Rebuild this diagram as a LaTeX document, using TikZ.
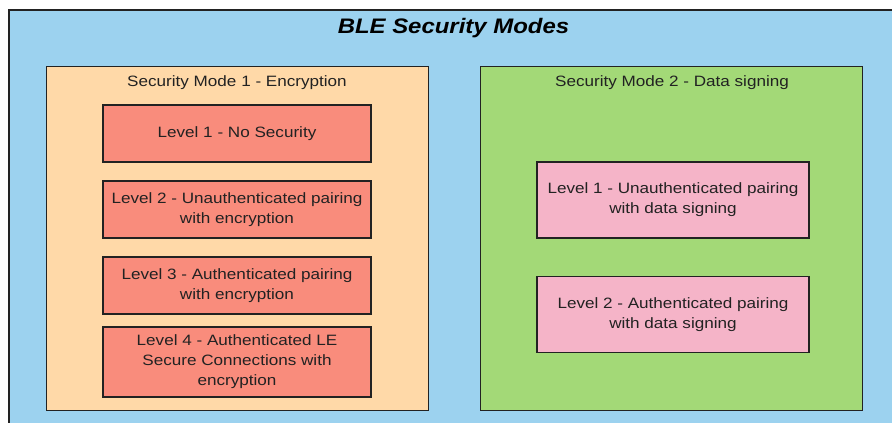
\documentclass[tikz,border=0pt]{standalone}
\usepackage{fontspec}
\setmainfont{Liberation Sans}[FakeStretch=1.14]
\definecolor{bleblue}{HTML}{9CD2EF}
\definecolor{peach}{HTML}{FFD9A8}
\definecolor{salmon}{HTML}{F98C7C}
\definecolor{leaf}{HTML}{A3D977}
\definecolor{rose}{HTML}{F5B4C8}
\definecolor{edge}{HTML}{222222}

\begin{document}
\begin{tikzpicture}[x=1pt,y=-1pt,
		box/.style={draw=edge,line width=1.4pt,inner sep=0pt,align=center,text=edge,font=\fontsize{15}{20}\selectfont},
		level/.style={box,minimum width=268pt,minimum height=57pt},
		sign/.style={box,minimum width=272pt,minimum height=76pt},
		mode/.style={box,minimum width=382pt,minimum height=344pt,anchor=north west},
		caption/.style={anchor=base,inner sep=0pt,text=edge,font=\fontsize{15}{20}\selectfont}]
					\clip (0,0) rectangle (892,423);
					\node[box,fill=bleblue,line width=2.4pt,minimum width=900pt,minimum height=430pt,anchor=north west] (ble) at (8,9) {};
					\node[anchor=base,inner sep=0pt,font=\fontsize{21}{24}\selectfont\bfseries\itshape] (title) at (453.5,33) {BLE Security Modes};

					\node[mode,fill=peach] (enc) at (46,66) {};
					\node[mode,fill=leaf] (sgn) at (480,66) {};
					\node[caption] (enct) at (237,86) {Security Mode 1 - Encryption};
					\node[caption] (sgnt) at (672,86) {Security Mode 2 - Data signing};

					\node[level,fill=salmon] (lv1) at (237,133.5) {Level 1 - No Security};
					\node[level,fill=salmon] (lv2) at (237,209.5) {Level 2 - Unauthenticated pairing\\with encryption};
					\node[level,fill=salmon] (lv3) at (237,285.5) {Level 3 - Authenticated pairing\\with encryption};
					\node[level,fill=salmon,minimum height=70pt] (lv4) at (237,362) {Level 4 - Authenticated LE\\Secure Connections with\\encryption};

					\node[sign,fill=rose] (sg1) at (673,200) {Level 1 - Unauthenticated pairing\\with data signing};
					\node[sign,fill=rose] (sg2) at (673,314.5) {Level 2 - Authenticated pairing\\with data signing};
				\end{tikzpicture}
\end{document}
